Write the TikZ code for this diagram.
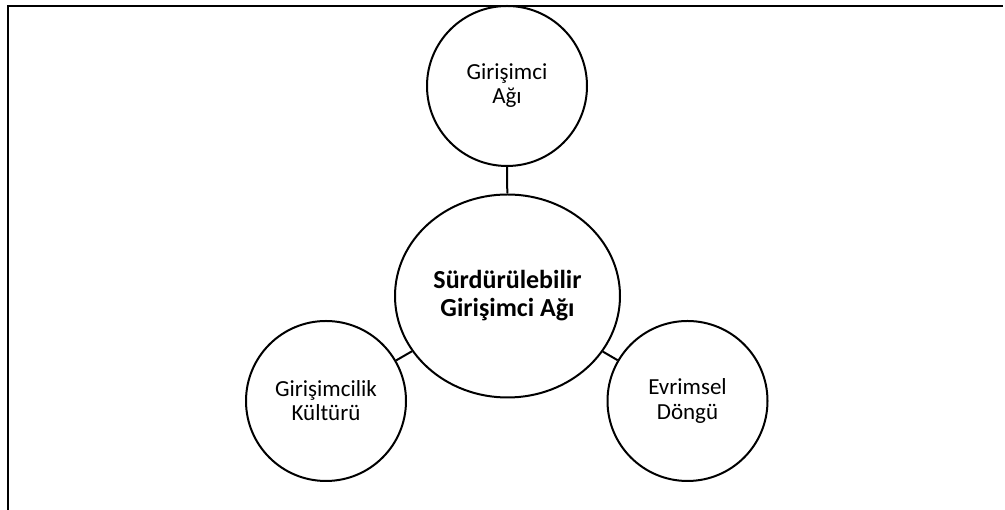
\documentclass[tikz,border=0pt]{standalone}
\usepackage{fontspec}
\setmainfont{Carlito}
\usepackage{tikz}
\usetikzlibrary{shapes.geometric, positioning}

\begin{document}
\begin{tikzpicture}[x=1pt,y=1pt,
    smallcirc/.style={draw=black,line width=2pt,circle,minimum size=160pt,inner sep=0pt,align=center,font=\fontsize{23}{24}\selectfont},
    bigcirc/.style={draw=black,line width=2pt,ellipse,minimum width=225pt,minimum height=203pt,inner sep=0pt,align=center,font=\fontsize{26}{28}\selectfont\bfseries},
    link/.style={draw=black,line width=2pt}]
    \useasboundingbox (0,0) rectangle (1005,510);
    % Cerceve
    \draw[line width=2pt] (8,0) -- (8,504) -- (1003,504);

    % Orta daire
    \node[bigcirc] (merkez) at (507.5,214) {Sürdürülebilir\\Girişimci Ağı};

    % Cevre daireler
    \node[smallcirc] (ag) at (507,424) {Girişimci\\Ağı};
    \node[smallcirc] (kultur) at (326,109) {Girişimcilik\\Kültürü};
    \node[smallcirc] (dongu) at (687.5,109) {Evrimsel\\Döngü};

    % Baglantilar
    \draw[link] (ag) -- (merkez);
    \draw[link] (kultur) -- (merkez);
    \draw[link] (dongu) -- (merkez);
\end{tikzpicture}
\end{document}
